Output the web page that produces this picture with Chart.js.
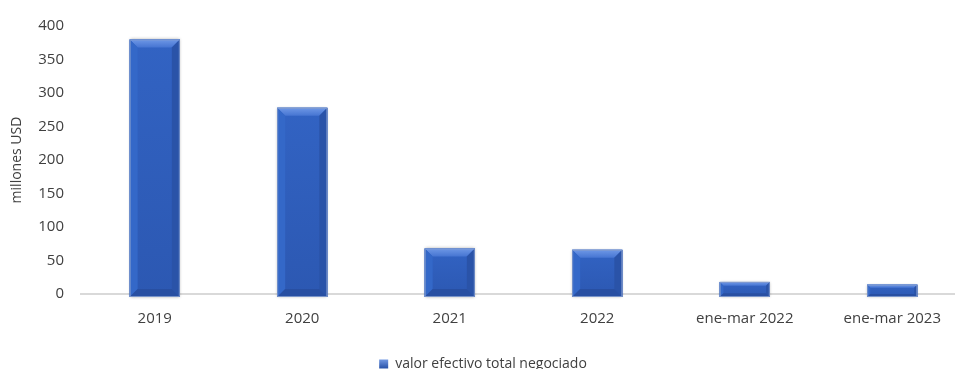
<!DOCTYPE html>
<html>
<head>
<meta charset="utf-8">
<script src="https://cdn.jsdelivr.net/npm/chart.js@4.4.0/dist/chart.umd.min.js"></script>
<style>
    html, body { margin: 0; padding: 0; background: #fff; overflow: hidden; }
    #wrap { width: 966px; height: 381px; }
</style>
</head>
<body>
<div id="wrap"><canvas id="valorChart" width="966" height="381"></canvas></div>
<script>
// categories and values (millones USD)
const periodos = ['2019', '2020', '2021', '2022', 'ene-mar 2022', 'ene-mar 2023'];
const valorNegociado = [380, 278, 68, 66, 18, 14];
const yTicks = [0, 50, 100, 150, 200, 250, 300, 350, 400];

const fontFamily = "'Open Sans', 'Liberation Sans', sans-serif";

// Draw each bar as a bevelled block with a soft shadow
const bevelBars = {
    id: 'bevelBars',
    afterDatasetsDraw(chart) {
        const ctx = chart.ctx;
        chart.getDatasetMeta(0).data.forEach(bar => {
            const l = bar.x - bar.width / 2;
            const r = bar.x + bar.width / 2;
            const t = bar.y;
            const b = bar.base + 3;
            const h = b - t;
            const bv = Math.min(8, h / 4);

            ctx.save();
            // shadow around the block
            ctx.shadowColor = 'rgba(0,0,0,0.3)';
            ctx.shadowBlur = 3;
            ctx.fillStyle = '#2f5cb8';
            ctx.fillRect(l, t, r - l, h);
            ctx.restore();

            ctx.save();
            // face
            const face = ctx.createLinearGradient(0, t, 0, b);
            face.addColorStop(0, '#3263c3');
            face.addColorStop(1, '#2c58b2');
            ctx.fillStyle = face;
            ctx.fillRect(l, t, r - l, h);

            // top bevel
            const top = ctx.createLinearGradient(0, t, 0, t + bv);
            top.addColorStop(0, '#6f98e6');
            top.addColorStop(1, '#4675d2');
            ctx.fillStyle = top;
            ctx.beginPath();
            ctx.moveTo(l, t); ctx.lineTo(r, t);
            ctx.lineTo(r - bv, t + bv); ctx.lineTo(l + bv, t + bv);
            ctx.closePath(); ctx.fill();

            // left bevel
            ctx.fillStyle = '#3468c8';
            ctx.beginPath();
            ctx.moveTo(l, t); ctx.lineTo(l + bv, t + bv);
            ctx.lineTo(l + bv, b - bv); ctx.lineTo(l, b);
            ctx.closePath(); ctx.fill();

            // right bevel
            ctx.fillStyle = '#2a53a8';
            ctx.beginPath();
            ctx.moveTo(r, t); ctx.lineTo(r - bv, t + bv);
            ctx.lineTo(r - bv, b - bv); ctx.lineTo(r, b);
            ctx.closePath(); ctx.fill();

            // bottom bevel
            ctx.fillStyle = '#284fa2';
            ctx.beginPath();
            ctx.moveTo(l, b); ctx.lineTo(l + bv, b - bv);
            ctx.lineTo(r - bv, b - bv); ctx.lineTo(r, b);
            ctx.closePath(); ctx.fill();

            // edge
            ctx.strokeStyle = 'rgba(130,155,205,0.9)';
            ctx.lineWidth = 1;
            ctx.strokeRect(l + 0.5, t + 0.5, r - l - 1, h - 1);
            ctx.restore();
        });
    }
};

const ctx = document.getElementById('valorChart').getContext('2d');

new Chart(ctx, {
    type: 'bar',
    data: {
        labels: periodos,
        datasets: [{
            label: 'valor efectivo total negociado',
            data: valorNegociado,
            backgroundColor: 'rgba(0,0,0,0)',
            borderWidth: 0,
            barPercentage: 0.34,
            categoryPercentage: 1
        }]
    },
    options: {
        responsive: false,
        animation: false,
        layout: { padding: { top: 22, right: 0, bottom: 0, left: 0 } },
        plugins: {
            tooltip: { enabled: false },
            legend: {
                position: 'bottom',
                labels: {
                    color: '#404040',
                    font: { family: fontFamily, size: 14 },
                    boxWidth: 9,
                    boxHeight: 9,
                    padding: 0,
                    generateLabels(chart) {
                        const g = chart.ctx.createLinearGradient(0, 358, 0, 368);
                        g.addColorStop(0, '#7ea4ec');
                        g.addColorStop(1, '#2a54aa');
                        return [{
                            text: chart.data.datasets[0].label,
                            fillStyle: g,
                            strokeStyle: '#2a54aa',
                            lineWidth: 0,
                            fontColor: '#404040',
                            datasetIndex: 0
                        }];
                    }
                }
            }
        },
        scales: {
            x: {
                grid: { display: false, drawTicks: false },
                border: { color: '#d9d9d9', width: 2 },
                ticks: {
                    color: '#404040',
                    font: { family: fontFamily, size: 15 },
                    padding: 16,
                    maxRotation: 0
                },
                afterFit(scale) { scale.height = 63; }
            },
            y: {
                min: 0,
                max: 400,
                afterBuildTicks(scale) {
                    scale.ticks = yTicks.map(v => ({ value: v }));
                },
                grid: { display: false, drawTicks: false },
                border: { display: false },
                ticks: {
                    color: '#404040',
                    font: { family: fontFamily, size: 15 },
                    padding: 17
                },
                title: {
                    display: true,
                    text: 'millones USD',
                    color: '#404040',
                    font: { family: fontFamily, size: 14 },
                    padding: { top: 9, bottom: 0 }
                },
                afterFit(scale) { scale.width = 81; }
            }
        }
    },
    plugins: [bevelBars]
});
</script>
</body>
</html>
